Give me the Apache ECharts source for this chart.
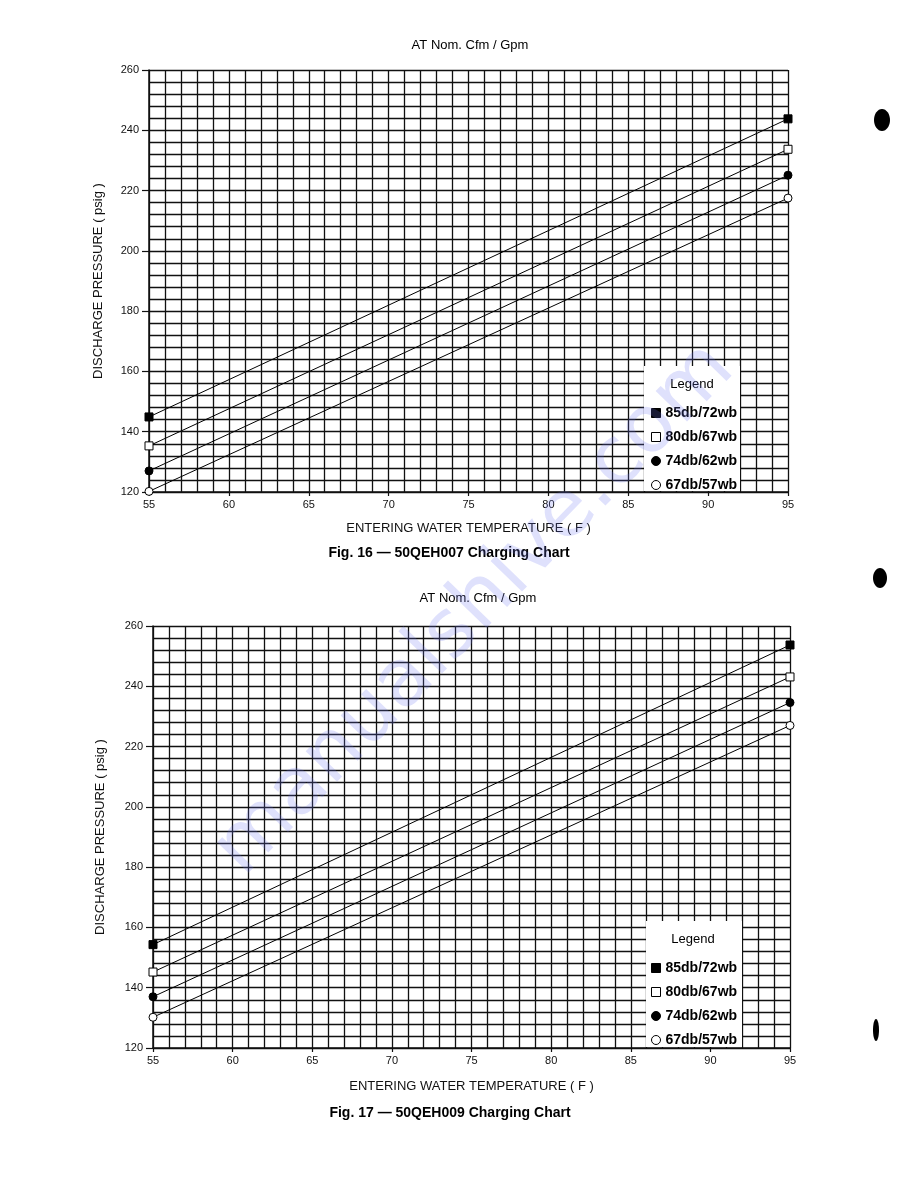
<!DOCTYPE html>
<html>
<head>
<meta charset="utf-8">
<script src="https://cdn.jsdelivr.net/npm/echarts@6/dist/echarts.min.js"></script>
<style>
html,body{margin:0;padding:0;background:#fff;}
#c{width:918px;height:1188px;}
</style>
</head>
<body>
<div id="c"></div>
<script>
// ---- data ----
const temps = [55, 95];                       // entering water temperature (F)
const seriesNames = ['85db/72wb', '80db/67wb', '74db/62wb', '67db/57wb'];
// Fig. 16 — 50QEH007
const fig16_85 = [144.9, 243.8];
const fig16_80 = [135.3, 233.7];
const fig16_74 = [127.0, 225.1];
const fig16_67 = [120.2, 217.5];
// Fig. 17 — 50QEH009
const fig17_85 = [154.3, 253.7];
const fig17_80 = [145.2, 243.1];
const fig17_74 = [137.0, 234.6];
const fig17_67 = [130.2, 227.0];
const xTicks = [55, 60, 65, 70, 75, 80, 85, 90, 95];
const yTicks = [120, 140, 160, 180, 200, 220, 240, 260];

const chart = echarts.init(document.getElementById('c'), null, {renderer: 'canvas'});
const FONT = '"Liberation Sans", Arial, sans-serif';
const ink = '#111';

const symbolFor = [
  {symbol: 'rect', fill: '#000'},
  {symbol: 'rect', fill: '#fff'},
  {symbol: 'circle', fill: '#000'},
  {symbol: 'circle', fill: '#fff'}
];

function pairs(vals) { return temps.map((t, i) => [t, vals[i]]); }

function makeAxes(gi) {
  const x = {
    type: 'value', gridIndex: gi, min: xTicks[0], max: xTicks[xTicks.length - 1], interval: 5,
    name: 'ENTERING WATER TEMPERATURE ( F )', nameLocation: 'middle', nameGap: 30,
    nameTextStyle: {fontFamily: FONT, fontSize: 13, color: ink},
    axisLine: {show: true, lineStyle: {color: ink, width: 1.5}},
    axisTick: {show: true, length: 4, lineStyle: {color: ink, width: 1.2}},
    axisLabel: {fontFamily: FONT, fontSize: 11, color: ink, margin: 7},
    splitLine: {show: true, lineStyle: {color: ink, width: 1.3}},
    minorTick: {show: false, splitNumber: 5},
    minorSplitLine: {show: true, lineStyle: {color: ink, width: 1.3}}
  };
  const y = {
    type: 'value', gridIndex: gi, min: yTicks[0], max: yTicks[yTicks.length - 1], interval: 20,
    name: 'DISCHARGE PRESSURE ( psig )', nameLocation: 'middle', nameGap: 44, nameRotate: 90,
    nameTextStyle: {fontFamily: FONT, fontSize: 13, color: ink},
    axisLine: {show: true, lineStyle: {color: ink, width: 1.5}},
    axisTick: {show: true, length: 7, lineStyle: {color: ink, width: 1.2}},
    axisLabel: {fontFamily: FONT, fontSize: 11, color: ink, margin: 10},
    splitLine: {show: true, lineStyle: {color: ink, width: 1.3}},
    minorTick: {show: false, splitNumber: 5},
    minorSplitLine: {show: true, lineStyle: {color: ink, width: 1.3}}
  };
  return {x, y};
}

const a0 = makeAxes(0), a1 = makeAxes(1);
a1.x.nameGap = 32; a1.y.nameGap = 46;

function makeSeries(gi, sets) {
  return sets.map((vals, i) => ({
    name: seriesNames[i], type: 'line', xAxisIndex: gi, yAxisIndex: gi,
    data: pairs(vals), symbol: symbolFor[i].symbol, symbolSize: 8,
    showSymbol: true, animation: false, z: 5,
    lineStyle: {color: '#000', width: 1},
    itemStyle: {color: symbolFor[i].fill, borderColor: '#000', borderWidth: 1}
  }));
}

function legendFor(top) {
  return {
    orient: 'vertical', left: 646, top: top, itemWidth: 9, itemHeight: 9, itemGap: 10,
    itemStyle: {borderColor: '#000', borderWidth: 1},
    textStyle: {fontFamily: FONT, fontSize: 14, fontWeight: 'bold', color: '#000', lineHeight: 14},
    data: seriesNames.map((n, i) => ({name: n, icon: symbolFor[i].symbol})),
    selectedMode: false, z: 20
  };
}

function txt(x, y, text, size, weight) {
  return {type: 'text', x: x, y: y, z: 30, silent: true,
    style: {text: text, fontFamily: FONT, fontSize: size, fontWeight: weight || 'normal', fill: '#000', align: 'center', verticalAlign: 'middle'}};
}

const option = {
  backgroundColor: '#fff',
  animation: false,
  grid: [
    {left: 149, top: 70, width: 639, height: 422},
    {left: 153, top: 626, width: 637, height: 422}
  ],
  xAxis: [a0.x, a1.x],
  yAxis: [a0.y, a1.y],
  legend: [legendFor(401), legendFor(956)],
  series: makeSeries(0, [fig16_85, fig16_80, fig16_74, fig16_67])
    .concat(makeSeries(1, [fig17_85, fig17_80, fig17_74, fig17_67])),
  graphic: [
    // legend boxes
    {type: 'rect', z: 10, silent: true, shape: {x: 644, y: 366, width: 96, height: 125}, style: {fill: '#fff'}},
    {type: 'rect', z: 10, silent: true, shape: {x: 646, y: 921, width: 96, height: 126}, style: {fill: '#fff'}},
    txt(692, 384, 'Legend', 13),
    txt(693, 939, 'Legend', 13),
    // titles
    txt(470, 45, 'AT Nom. Cfm / Gpm', 13),
    txt(478, 598, 'AT Nom. Cfm / Gpm', 13),
    txt(449, 553, 'Fig. 16 — 50QEH007 Charging Chart', 14, 'bold'),
    txt(450, 1113, 'Fig. 17 — 50QEH009 Charging Chart', 14, 'bold'),
    // watermark
    {type: 'text', x: 475, y: 610, z: 40, silent: true, rotation: 0.80,
      style: {text: 'manualshive.com', fontFamily: '"DejaVu Sans", sans-serif', fontSize: 80,
        fill: 'rgba(110,120,240,0.22)', align: 'center', verticalAlign: 'middle'}},
    // scan specks on the margin
    {type: 'ellipse', z: 30, silent: true, shape: {cx: 882, cy: 120, rx: 8, ry: 11}, style: {fill: '#000'}},
    {type: 'ellipse', z: 30, silent: true, shape: {cx: 880, cy: 578, rx: 7, ry: 10}, style: {fill: '#000'}},
    {type: 'ellipse', z: 30, silent: true, shape: {cx: 876, cy: 1030, rx: 3, ry: 11}, style: {fill: '#000'}}
  ]
};
chart.setOption(option);
</script>
</body>
</html>
